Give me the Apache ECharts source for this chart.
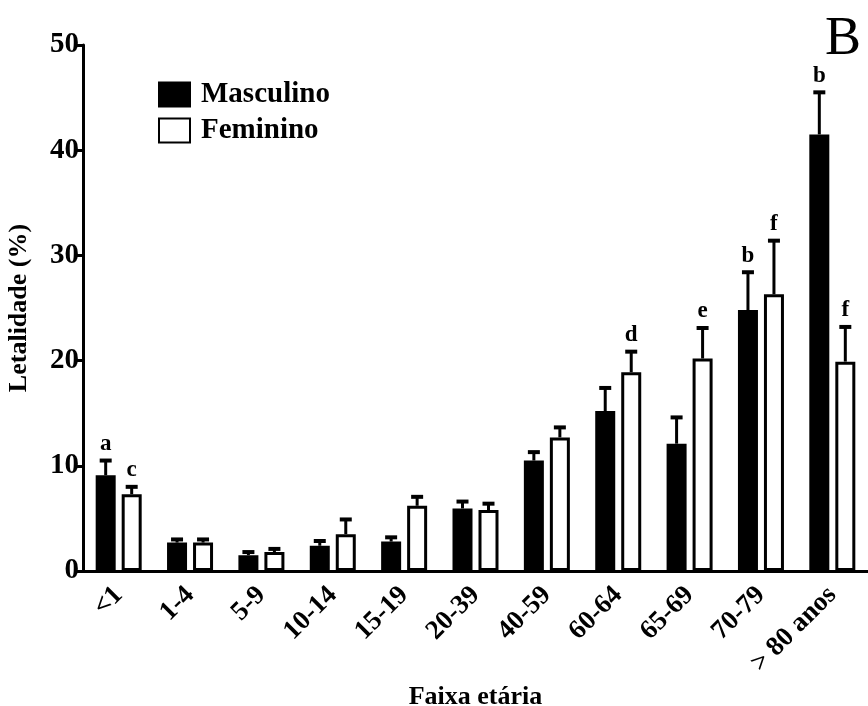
<!DOCTYPE html>
<html>
<head>
<meta charset="utf-8">
<script src="https://cdn.jsdelivr.net/npm/echarts@6/dist/echarts.min.js"></script>
<style>
  html, body { margin: 0; padding: 0; background: #fff; }
  #chart { width: 868px; height: 706px; }
</style>
</head>
<body>
<div id="chart"></div>
<script>
// faixas etárias
const categories = ['<1', '1-4', '5-9', '10-14', '15-19', '20-39', '40-59', '60-64', '65-69', '70-79', '> 80 anos']
// letalidade média (%)
const masculino = [9.1, 2.7, 1.5, 2.4, 2.8, 5.95, 10.5, 15.2, 12.1, 24.8, 41.5]
const feminino = [7.3, 2.7, 1.8, 3.5, 6.2, 5.8, 12.7, 18.9, 20.2, 26.3, 19.9]
// erro padrão (barra superior)
const masculinoErr = [1.4, 0.3, 0.3, 0.45, 0.4, 0.65, 0.8, 2.2, 2.5, 3.6, 4.0]
const femininoErr = [0.7, 0.3, 0.3, 1.4, 0.85, 0.6, 0.95, 1.95, 2.9, 5.1, 3.3]
// letras de significância
const masculinoLetras = ['a', '', '', '', '', '', '', '', '', 'b', 'b']
const femininoLetras = ['c', '', '', '', '', '', '', 'd', 'e', 'f', 'f']
const yTicks = [0, 10, 20, 30, 40, 50]

const FONT = "'Liberation Serif', 'Times New Roman', serif"
const BAR_W = 20
const BAR_GAP = 6

const chart = echarts.init(document.getElementById('chart'))

// barra de erro + letra, deslocada para o lado da barra correspondente
const errorSeries = (name, means, errs, letras, side) => ({
  name: name + '_err',
  type: 'custom',
  z: 5,
  silent: true,
  data: means.map((m, i) => [i, m, errs[i]]),
  renderItem: (params, api) => {
    const i = api.value(0)
    const top = api.coord([i, api.value(1) + api.value(2)])
    const base = api.coord([i, api.value(1)])
    const x = base[0] + side * (BAR_W + BAR_GAP) / 2
    const children = [
      {
        type: 'line',
        shape: { x1: x, y1: base[1], x2: x, y2: top[1] },
        style: { stroke: '#000', lineWidth: 3 }
      },
      {
        type: 'line',
        shape: { x1: x - 6, y1: top[1], x2: x + 6, y2: top[1] },
        style: { stroke: '#000', lineWidth: 4 }
      }
    ]
    const letra = letras[params.dataIndex]
    if (letra) {
      children.push({
        type: 'text',
        x: x,
        y: top[1] - 5,
        style: {
          text: letra,
          fill: '#000',
          font: 'bold 23px ' + FONT,
          align: 'center',
          verticalAlign: 'bottom'
        }
      })
    }
    return { type: 'group', children: children }
  }
})

chart.setOption({
  animation: false,
  textStyle: { fontFamily: FONT, color: '#000' },
  title: {
    text: 'B',
    left: 820,
    top: 8,
    textStyle: { fontFamily: FONT, fontSize: 54, fontWeight: 'normal', color: '#000' }
  },
  legend: {
    orient: 'vertical',
    left: 153,
    top: 75,
    itemWidth: 31,
    itemHeight: 24,
    itemGap: 7,
    icon: 'rect',
    data: ['Masculino', 'Feminino'],
    textStyle: { fontFamily: FONT, fontSize: 29, fontWeight: 'bold', color: '#000', padding: [0, 0, 0, 6] }
  },
  grid: {
    left: 83,
    right: 0,
    top: 45,
    bottom: 135,
    outerBoundsMode: 'none'
  },
  xAxis: {
    type: 'category',
    data: categories,
    name: 'Faixa etária',
    nameLocation: 'middle',
    nameGap: 102,
    nameTextStyle: { fontFamily: FONT, fontSize: 26, fontWeight: 'bold', color: '#000' },
    axisLine: { lineStyle: { color: '#000', width: 3 } },
    axisTick: { alignWithLabel: true, length: 7, lineStyle: { color: '#000', width: 3 } },
    axisLabel: {
      rotate: 45,
      margin: 20,
      interval: 0,
      fontFamily: FONT,
      fontSize: 27,
      fontWeight: 'bold',
      color: '#000'
    }
  },
  yAxis: {
    type: 'value',
    min: yTicks[0],
    max: yTicks[yTicks.length - 1],
    interval: yTicks[1] - yTicks[0],
    name: 'Letalidade (%)',
    nameLocation: 'middle',
    nameGap: 51,
    nameTextStyle: { fontFamily: FONT, fontSize: 26, fontWeight: 'bold', color: '#000' },
    splitLine: { show: false },
    axisLine: { show: true, lineStyle: { color: '#000', width: 3 } },
    axisTick: { show: true, length: 7, lineStyle: { color: '#000', width: 3 } },
    axisLabel: { margin: 4, fontFamily: FONT, fontSize: 29, fontWeight: 'bold', color: '#000' }
  },
  series: [
    {
      name: 'Masculino',
      type: 'bar',
      data: masculino,
      barWidth: BAR_W,
      barGap: (BAR_GAP / BAR_W * 100) + '%',
      itemStyle: { color: '#000', borderColor: '#000', borderWidth: 3 }
    },
    {
      name: 'Feminino',
      type: 'bar',
      data: feminino,
      barWidth: BAR_W,
      barGap: (BAR_GAP / BAR_W * 100) + '%',
      itemStyle: { color: '#fff', borderColor: '#000', borderWidth: 3 }
    },
    errorSeries('Masculino', masculino, masculinoErr, masculinoLetras, -1),
    errorSeries('Feminino', feminino, femininoErr, femininoLetras, 1)
  ]
})
</script>
</body>
</html>
